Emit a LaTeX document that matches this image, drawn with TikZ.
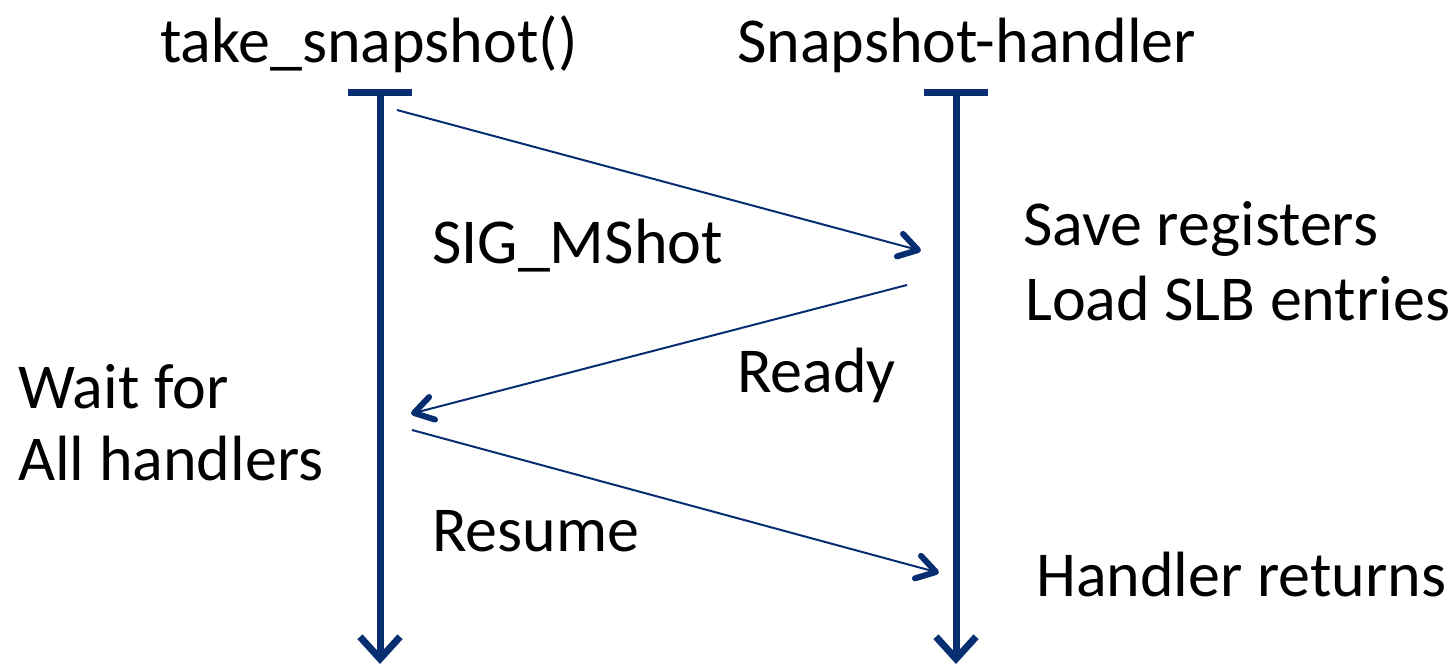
\documentclass[tikz,border=0pt]{standalone}
\usepackage{fontspec}
\setmainfont{Carlito}
\usetikzlibrary{arrows.meta,calc}
\definecolor{navy}{HTML}{082E72}
\tikzset{
  life/.style={draw=navy, line width=7pt, -{Straight Barb[length=22pt,width=40pt]}},
  bar/.style={draw=navy, line width=7pt},
  msg/.style={draw=navy, line width=2pt},
  msghead/.style={draw=navy, line width=6pt, line cap=round, line join=round}
}
\tikzset{lbl/.style={anchor=base west, inner sep=0pt, font=\fontsize{64}{76}\selectfont}}
\begin{document}
\begin{tikzpicture}[x=1pt,y=-1pt]
\useasboundingbox (0,0) rectangle (1454,666);
% lifelines
\coordinate (Ltop) at (380,93);
\coordinate (Lbot) at (380,664);
\coordinate (Rtop) at (956,93);
\coordinate (Rbot) at (956,664);
\coordinate (Lbl) at (348,93); \coordinate (Lbr) at (412,93);
\coordinate (Rbl) at (924,93); \coordinate (Rbr) at (988,93);
\draw[life] (Ltop) -- (Lbot);
\draw[life] (Rtop) -- (Rbot);
\draw[bar] (Lbl) -- (Lbr);
\draw[bar] (Rbl) -- (Rbr);
% messages
\coordinate (m1s) at (397,110); \coordinate (m1e) at (918,250);
\coordinate (m2s) at (907,285); \coordinate (m2e) at (414,413);
\coordinate (m3s) at (412,430); \coordinate (m3e) at (936,572);
\draw[msg] (m1s) -- (m1e);
\draw[msghead] ($(m1e)!22pt!32:(m1s)$) -- (m1e) -- ($(m1e)!22pt!-32:(m1s)$);
\draw[msg] (m2s) -- (m2e);
\draw[msghead] ($(m2e)!22pt!32:(m2s)$) -- (m2e) -- ($(m2e)!22pt!-32:(m2s)$);
\draw[msg] (m3s) -- (m3e);
\draw[msghead] ($(m3e)!22pt!32:(m3s)$) -- (m3e) -- ($(m3e)!22pt!-32:(m3s)$);
% labels
\node[lbl] (t1) at (160,63) {take\_snapshot()};
\node[lbl] (t2) at (737,63) {Snapshot-handler};
\node[lbl] (t3) at (432,263) {SIG\_MShot};
\node[lbl] (t4) at (1023,245) {Save registers};
\node[lbl] (t5) at (1025,320) {Load SLB entries};
\node[lbl] (t6) at (737,392) {Ready};
\node[lbl] (t7) at (18,408) {Wait for};
\node[lbl] (t8) at (18,480) {All handlers};
\node[lbl] (t9) at (432,551) {Resume};
\node[lbl] (t10) at (1036,596) {Handler returns};
\end{tikzpicture}
\end{document}
